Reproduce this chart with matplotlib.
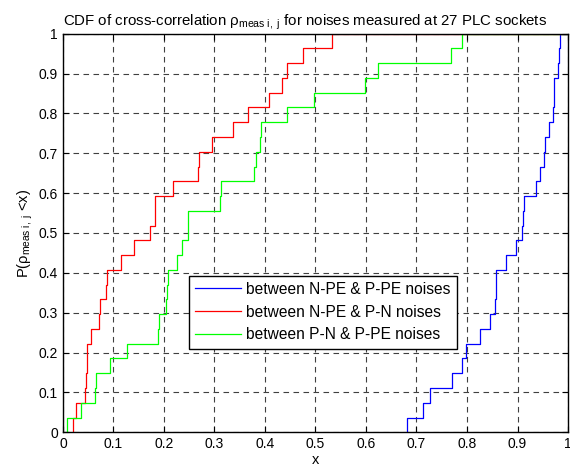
import numpy as np
import matplotlib
matplotlib.use("Agg")
import matplotlib.pyplot as plt

plt.rcParams['font.family'] = ['Liberation Sans', 'DejaVu Sans']
plt.rcParams['mathtext.fontset'] = 'custom'
plt.rcParams['mathtext.rm'] = 'Liberation Sans'
plt.rcParams['mathtext.it'] = 'Liberation Sans:italic'

# sorted cross-correlation values, 27 sockets per series
npe_ppe = [0.682, 0.713, 0.727, 0.771, 0.790, 0.799, 0.826, 0.846, 0.855,
           0.857, 0.858, 0.877, 0.898, 0.908, 0.910, 0.912, 0.937, 0.944,
           0.953, 0.954, 0.962, 0.971, 0.972, 0.973, 0.981, 0.983, 0.984]
npe_pn = [0.020, 0.025, 0.044, 0.045, 0.047, 0.048, 0.055, 0.071, 0.073,
          0.085, 0.087, 0.114, 0.141, 0.172, 0.182, 0.183, 0.218, 0.268,
          0.270, 0.296, 0.336, 0.367, 0.407, 0.433, 0.443, 0.476, 0.532]
pn_ppe = [0.0085, 0.036, 0.063, 0.066, 0.093, 0.127, 0.189, 0.191, 0.204,
          0.206, 0.207, 0.225, 0.235, 0.247, 0.248, 0.311, 0.312, 0.378,
          0.383, 0.391, 0.392, 0.443, 0.497, 0.598, 0.624, 0.769, 0.790]

labels = ['between N-PE & P-PE noises',
          'between N-PE & P-N noises',
          'between P-N & P-PE noises']
colors = ['#0000ff', '#ff0000', '#00ff00']
tick_labels = ['0', '0.1', '0.2', '0.3', '0.4', '0.5', '0.6', '0.7', '0.8', '0.9', '1']

fig = plt.figure(figsize=(5.7, 4.74), dpi=100)
ax = fig.add_axes([0.1105, 0.088, 0.886, 0.841])


def cdf_xy(vals):
    x = np.sort(np.asarray(vals))
    n = len(x)
    xs = np.r_[x[0], x, 2.0]
    ys = np.r_[0.0, np.arange(1, n + 1) / n, 1.0]
    return xs, ys


for vals, lab, col in zip([npe_ppe, npe_pn, pn_ppe], labels, colors):
    xs, ys = cdf_xy(vals)
    ax.plot(xs, ys, drawstyle='steps-post', color=col, lw=0.9, label=lab)

ax.set_xlim(0, 1)
ax.set_ylim(0, 1)
ax.set_xticks(np.arange(0, 1.01, 0.1))
ax.set_yticks(np.arange(0, 1.01, 0.1))
ax.set_xticklabels(tick_labels)
ax.set_yticklabels(tick_labels)
ax.tick_params(direction='in', top=True, right=True, length=4, width=0.8,
               labelsize=10, colors='black')
ax.grid(True, color='0.25', linestyle=(0, (5, 4)), lw=0.8)
for s in ax.spines.values():
    s.set_linewidth(1.0)

ax.set_title('CDF of cross-correlation ρ$_{\\rm meas\\ i,\\ j}$ for noises measured at 27 PLC sockets',
             fontsize=10.8, pad=6, x=0.48)
ax.set_xlabel('x', fontsize=10.5, labelpad=1)
ax.set_ylabel('P(ρ$_{\\rm meas\\ i,\\ j}$ <x)', fontsize=10.5, labelpad=3)

leg = ax.legend(loc='upper left', bbox_to_anchor=(0.25, 0.393), borderaxespad=0,
                fontsize=11.2, frameon=True, fancybox=False, framealpha=1,
                edgecolor='black', handlelength=2.9, handletextpad=0.35,
                borderpad=0.4, labelspacing=0.5)
leg.get_frame().set_linewidth(1.0)

fig.savefig('out.png', dpi=100)
